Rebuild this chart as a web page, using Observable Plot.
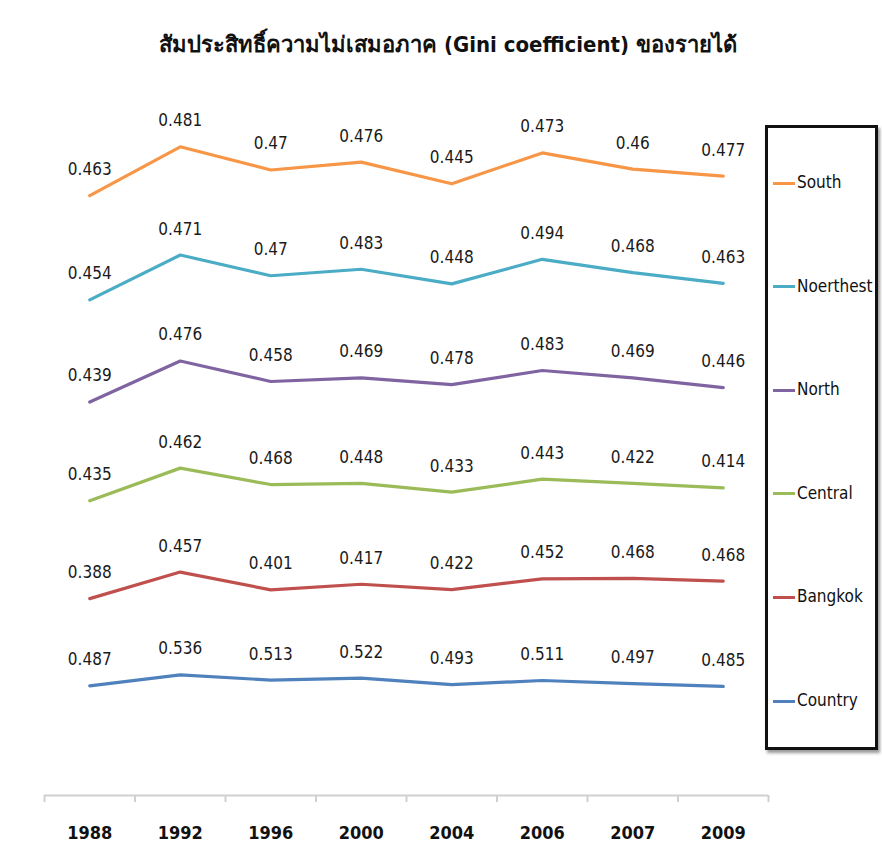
<!DOCTYPE html>
<html>
<head>
<meta charset="utf-8">
<script src="https://cdn.jsdelivr.net/npm/d3@7"></script>
<script src="https://cdn.jsdelivr.net/npm/@observablehq/plot@0.6"></script>
<style>
  html, body { margin: 0; padding: 0; background: #fff; }
  #page { position: relative; width: 882px; height: 855px; overflow: hidden; font-family: "DejaVu Sans Condensed", "Liberation Sans Narrow", sans-serif; }
  #title { position: absolute; left: 0; top: 0; width: 896px; height: 90px; text-align: center; line-height: 90px; font-size: 22px; font-weight: bold; color: #111; font-stretch: condensed; }
  #chart { position: absolute; left: 0; top: 90px; }
  #legend { position: absolute; left: 765px; top: 125px; width: 107px; height: 619px; border: 3px solid #111; box-shadow: 2px 3px 3px #999; background: #fff; }
  .item { position: absolute; left: 5px; height: 24px; line-height: 24px; font-size: 17px; color: #111; white-space: nowrap; font-stretch: condensed; }
  .sw { display: inline-block; width: 22px; height: 3px; vertical-align: middle; margin-right: 2px; }
  g[aria-label="x-axis tick label"] text { font-weight: bold; }
  svg text { font-stretch: condensed; }
</style>
</head>
<body>
<div id="page">
  <div id="title">สัมประสิทธิ์ความไม่เสมอภาค (Gini coefficient) ของรายได้</div>
  <div id="chart"></div>
  <div id="legend"></div>
</div>
<script>
const years = ["1988", "1992", "1996", "2000", "2004", "2006", "2007", "2009"];
const seriesNames = ["Country", "Bangkok", "Central", "North", "Noerthest", "South"];
const country   = [0.487, 0.536, 0.513, 0.522, 0.493, 0.511, 0.497, 0.485];
const bangkok   = [0.388, 0.457, 0.401, 0.417, 0.422, 0.452, 0.468, 0.468];
const central   = [0.435, 0.462, 0.468, 0.448, 0.433, 0.443, 0.422, 0.414];
const north     = [0.439, 0.476, 0.458, 0.469, 0.478, 0.483, 0.469, 0.446];
const northeast = [0.454, 0.471, 0.470, 0.483, 0.448, 0.494, 0.468, 0.463];
const south     = [0.463, 0.481, 0.470, 0.476, 0.445, 0.473, 0.460, 0.477];
const colors    = ["#4f81bd", "#c0504d", "#9bbb59", "#8064a2", "#4bacc6", "#f79646"];

const seriesValues = [country, bangkok, central, north, northeast, south];
const data = [];
seriesNames.forEach((name, s) => {
  seriesValues[s].forEach((v, i) => data.push({ series: name, i, year: years[i], value: v }));
});

const stackOpts = { x: "i", y: "value", z: "series", order: seriesNames };
const fontStack = '"DejaVu Sans Condensed", "Liberation Sans Narrow", sans-serif';

const plot = Plot.plot({
  width: 882,
  height: 765,
  marginTop: 0,
  marginLeft: 0,
  marginRight: 0,
  marginBottom: 60,
  style: { fontFamily: fontStack, color: "#111", background: "transparent" },
  x: { type: "linear", domain: [-0.5, 7.5], range: [44, 768], axis: null },
  y: { type: "linear", domain: [0, 3], range: [705, 30], axis: null },
  color: { domain: seriesNames, range: colors },
  marks: [
    Plot.ruleY([0], { x1: -0.5, x2: 7.5, stroke: "#d0d0d0", strokeWidth: 2 }),
    Plot.axisX({ ticks: d3.range(-0.5, 8, 1), tickFormat: () => "", tickSize: 7, stroke: "#d0d0d0", strokeWidth: 2, label: null }),
    Plot.axisX({ ticks: d3.range(0, 8), tickFormat: i => years[i], tickSize: 0, tickPadding: 31, fontSize: 18, label: null }),
    Plot.lineY(data, Plot.stackY2({ ...stackOpts, stroke: "series", strokeWidth: 3.2 })),
    Plot.text(data, Plot.stackY2({ ...stackOpts, text: d => String(d.value), dy: -26, fontSize: 17, fill: "#1a1a1a" }))
  ]
});
document.getElementById("chart").appendChild(plot);

const legend = document.getElementById("legend");
const legendOrder = ["South", "Noerthest", "North", "Central", "Bangkok", "Country"];
legendOrder.forEach((name, k) => {
  const div = document.createElement("div");
  div.className = "item";
  div.style.top = (42 + k * 103.6) + "px";
  const sw = document.createElement("span");
  sw.className = "sw";
  sw.style.background = colors[seriesNames.indexOf(name)];
  div.appendChild(sw);
  div.appendChild(document.createTextNode(name));
  legend.appendChild(div);
});
</script>
</body>
</html>
